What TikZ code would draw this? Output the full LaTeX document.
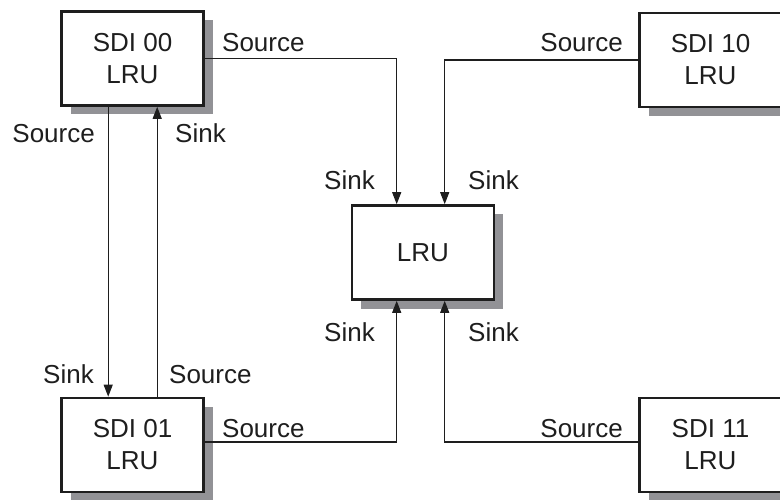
\documentclass[tikz,border=0pt]{standalone}
\usepackage{fontspec}
\setmainfont{Liberation Sans}
\usetikzlibrary{arrows.meta,shadows,calc}
\definecolor{shgray}{RGB}{146,146,150}
\definecolor{ink}{RGB}{30,30,30}
\tikzset{
  lrubox/.style={draw=ink, line width=2.6pt, fill=white, minimum width=142pt, minimum height=94pt,
    inner sep=0pt, align=center, text=ink, font=\fontsize{26}{32}\selectfont,
    general shadow={shadow xshift=9pt, shadow yshift=-9pt, fill=shgray, draw=none}},
  lbl/.style={text=ink, font=\fontsize{26}{32}\selectfont, inner sep=0pt},
  conn/.style={draw=ink, line width=1.1pt},
  arr/.style={conn, -{Triangle[length=12pt,width=9pt]}}
}
\begin{document}
\begin{tikzpicture}[x=1pt,y=-1pt]
\useasboundingbox (0,0) rectangle (780,500);
% boxes
\node[lrubox] (s00) at (132.5,58.5) {SDI 00\\LRU};
\node[lrubox] (s01) at (132.5,445) {SDI 01\\LRU};
\node[lrubox] (s10) at (710.5,60) {SDI 10\\LRU};
\node[lrubox] (s11) at (710.5,445) {SDI 11\\LRU};
\node[lrubox] (lru) at (423,252.5) {LRU};
% connectors
\draw[arr] (s00.east) -| ($(lru.north west)+(46,0)$);
\draw[arr] (s10.west) -| ($(lru.north west)+(94,0)$);
\draw[arr] ($(s01.east)+(0,-3)$) -| ($(lru.south west)+(46,0)$);
\draw[arr] ($(s11.west)+(0,-3)$) -| ($(lru.south west)+(94,0)$);
\draw[arr] ($(s00.south west)+(48,0)$) -- ($(s01.north west)+(48,0)$);
\draw[arr] ($(s01.north west)+(97,0)$) -- ($(s00.south west)+(97,0)$);
% labels
\node[lbl, anchor=base west] (l1) at (222,52) {Source};
\node[lbl, anchor=base east] (l2) at (623,52) {Source};
\node[lbl, anchor=base east] (l3) at (95,143) {Source};
\node[lbl, anchor=base west] (l4) at (175,143) {Sink};
\node[lbl, anchor=base east] (l5) at (94,383) {Sink};
\node[lbl, anchor=base west] (l6) at (169,383) {Source};
\node[lbl, anchor=base west] (l7) at (222,437) {Source};
\node[lbl, anchor=base east] (l8) at (623,437) {Source};
\node[lbl, anchor=base east] (l9) at (375,190) {Sink};
\node[lbl, anchor=base west] (l10) at (468,190) {Sink};
\node[lbl, anchor=base east] (l11) at (375,341) {Sink};
\node[lbl, anchor=base west] (l12) at (468,341) {Sink};
\end{tikzpicture}
\end{document}
